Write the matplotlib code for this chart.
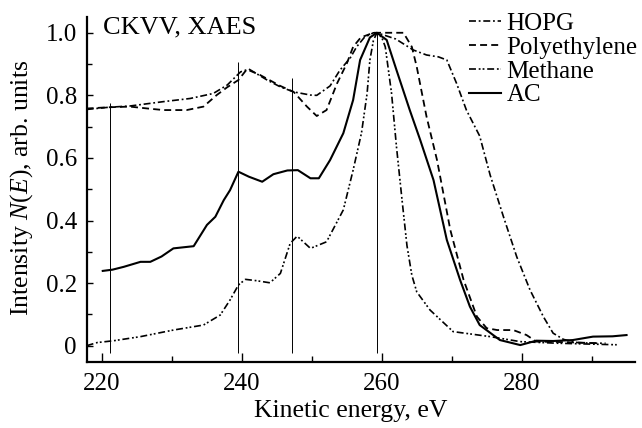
import numpy as np
import matplotlib
matplotlib.use("Agg")
import matplotlib.pyplot as plt

plt.rcParams['font.family'] = ['Liberation Serif', 'DejaVu Serif']
plt.rcParams['mathtext.fontset'] = 'custom'
plt.rcParams['mathtext.rm'] = 'Liberation Serif'
plt.rcParams['mathtext.it'] = 'Liberation Serif:italic'
plt.rcParams['lines.scale_dashes'] = False

# HOPG (dash-dot)
hopg_x = [217.8, 221.0, 224.0, 228.8, 232.6, 235.9, 237.9, 239.8, 241.0, 243.6, 245.5, 247.4,
          249.8, 250.7, 252.6, 254.0, 255.5, 256.4, 257.5, 258.8, 260.0, 262.0, 264.5, 266.4,
          268.1, 269.3, 270.7, 272.1, 274.0, 275.5, 277.4, 279.3, 281.2, 283.1, 284.5, 286.0,
          288.0, 290.0, 292.0]
hopg_y = [0.755, 0.762, 0.766, 0.780, 0.790, 0.806, 0.833, 0.875, 0.884, 0.849, 0.827, 0.811,
          0.801, 0.800, 0.830, 0.880, 0.920, 0.955, 0.985, 1.000, 0.995, 0.980, 0.945, 0.929,
          0.923, 0.913, 0.838, 0.753, 0.670, 0.545, 0.412, 0.284, 0.178, 0.093, 0.040, 0.020,
          0.010, 0.008, 0.008]

# Polyethylene (dashed)
pe_x = [217.8, 221.0, 224.0, 226.5, 228.8, 232.1, 234.5, 236.4, 237.9, 239.5, 240.7, 242.6,
        245.5, 247.4, 249.3, 250.7, 252.1, 253.6, 255.0, 255.9, 257.0, 258.8, 261.0, 263.1,
        264.3, 265.0, 266.4, 267.9, 269.8, 271.7, 273.6, 275.0, 276.5, 278.8, 280.7, 282.1,
        285.0, 288.0, 291.0]
pe_y = [0.758, 0.762, 0.764, 0.758, 0.753, 0.753, 0.764, 0.801, 0.826, 0.849, 0.883, 0.865,
        0.830, 0.811, 0.764, 0.734, 0.753, 0.838, 0.902, 0.955, 0.985, 1.000, 1.000, 1.000,
        0.955, 0.891, 0.732, 0.593, 0.370, 0.210, 0.093, 0.056, 0.050, 0.050, 0.034, 0.013,
        0.012, 0.010, 0.008]

# Methane (dash-dot-dot)
ch4_x = [217.8, 219.3, 221.7, 225.5, 230.2, 234.5, 236.9, 238.3, 239.5, 240.5, 242.0, 244.0,
         245.5, 246.9, 247.9, 249.8, 252.1, 254.5, 255.9, 257.1, 257.9, 258.3, 258.8, 259.3,
         260.0, 260.5, 261.4, 262.1, 262.9, 263.6, 264.3, 265.0, 266.9, 270.2, 275.5, 279.8,
         285.0, 290.0, 293.6]
ch4_y = [0.000, 0.010, 0.016, 0.029, 0.050, 0.066, 0.098, 0.146, 0.194, 0.212, 0.208, 0.201,
         0.231, 0.327, 0.350, 0.311, 0.332, 0.434, 0.561, 0.680, 0.806, 0.913, 0.975, 1.000,
         0.985, 0.955, 0.806, 0.636, 0.465, 0.320, 0.225, 0.172, 0.114, 0.045, 0.029, 0.013,
         0.008, 0.005, 0.003]

# AC (solid)
ac_x = [220.1, 221.5, 223.1, 225.5, 226.9, 228.5, 230.2, 233.1, 235.0, 236.2, 237.4, 238.3,
        239.5, 241.0, 242.9, 244.5, 246.5, 248.0, 249.8, 251.0, 252.6, 254.5, 255.9, 256.9,
        258.3, 259.3, 260.7, 262.1, 264.0, 265.5, 267.4, 269.3, 271.2, 272.6, 274.0, 276.9,
        279.8, 282.1, 284.5, 287.3, 290.2, 293.0, 295.0]
ac_y = [0.239, 0.243, 0.252, 0.268, 0.268, 0.285, 0.311, 0.318, 0.386, 0.412, 0.465, 0.497,
        0.556, 0.540, 0.524, 0.548, 0.560, 0.561, 0.535, 0.535, 0.593, 0.679, 0.785, 0.913,
        0.985, 1.000, 0.977, 0.881, 0.753, 0.657, 0.529, 0.338, 0.210, 0.125, 0.066, 0.018,
        0.002, 0.016, 0.015, 0.018, 0.029, 0.030, 0.034]

# thin vertical marker lines
mark_x = [221.1, 239.5, 247.2, 259.3]
mark_top = [0.775, 0.908, 0.857, 1.0]

fig = plt.figure(figsize=(6.42, 4.28), dpi=100)
ax = fig.add_axes([0.135, 0.155, 0.854, 0.805])

ax.vlines(mark_x, -0.024, mark_top, color='black', lw=0.7)

ax.plot(hopg_x, hopg_y, color='black', lw=1.2, dashes=(5, 2, 1.3, 2), label='HOPG')
ax.plot(pe_x, pe_y, color='black', lw=1.3, dashes=(5, 3), label='Polyethylene')
ax.plot(ch4_x, ch4_y, color='black', lw=1.2, dashes=(5, 2, 1.3, 1.5, 1.3, 2), label='Methane')
ax.plot(ac_x, ac_y, color='black', lw=1.5, label='AC')

ax.set_xlim(217.8, 296.2)
ax.set_ylim(-0.051, 1.05)
ax.set_xticks([220, 240, 260, 280])
ax.set_xticks([230, 250, 270, 290], minor=True)
ax.set_yticks([0, 0.2, 0.4, 0.6, 0.8, 1.0])
ax.set_yticklabels(['0', '0.2', '0.4', '0.6', '0.8', '1.0'])
ax.set_yticks([0.1, 0.3, 0.5, 0.7, 0.9], minor=True)

ax.tick_params(axis='both', which='both', direction='in', width=1.0, labelsize=18)
ax.tick_params(axis='x', which='major', length=6.5, pad=8)
ax.tick_params(axis='x', which='minor', length=4)
ax.tick_params(axis='y', which='major', length=4, pad=7)
ax.tick_params(axis='y', which='minor', length=3.5)

for s in ['top', 'right']:
    ax.spines[s].set_visible(False)
for s in ['left', 'bottom']:
    ax.spines[s].set_linewidth(1.6)

ax.set_xlabel('Kinetic energy, eV', fontsize=18.5)
ax.set_ylabel('Intensity $N(E)$, arb. units', fontsize=18.5)
ax.xaxis.set_label_coords(0.482, -0.112, transform=ax.transAxes)
ax.yaxis.set_label_coords(-0.095, 0.504, transform=ax.transAxes)

ax.text(0.03, 1.003, 'CKVV, XAES', transform=ax.transAxes, fontsize=19,
        ha='left', va='top')

ax.legend(loc='upper left', bbox_to_anchor=(0.697, 1.013), frameon=False, fontsize=18,
          borderaxespad=0, borderpad=0, handlelength=1.3, handletextpad=0.2,
          labelspacing=0.05)

fig.savefig('out.png', dpi=100)
